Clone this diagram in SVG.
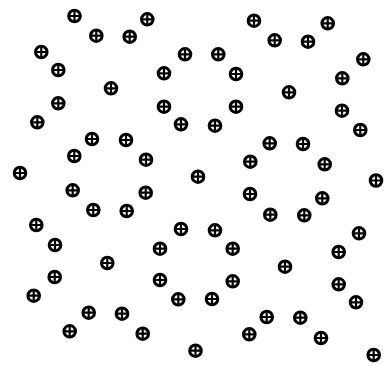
<svg xmlns="http://www.w3.org/2000/svg" xmlns:xlink="http://www.w3.org/1999/xlink" width="385" height="366" viewBox="0 0 385 366">
<defs>
<style>
.ring{fill:none;stroke:#000;stroke-width:3}
.cr{stroke:#000;stroke-width:2.2}
</style>
<g id="sym">
<circle class="ring" cx="0" cy="0" r="5.8"/>
<path class="cr" d="M-4.8,0H4.8M0,-4.8V4.8"/>
</g>
</defs>
<rect width="385" height="366" fill="#fff"/>
<g id="symbols">
<use href="#sym" x="74.5" y="16"/>
<use href="#sym" x="147.3" y="19.3"/>
<use href="#sym" x="96.3" y="35.7"/>
<use href="#sym" x="129.7" y="36.7"/>
<use href="#sym" x="41.3" y="52"/>
<use href="#sym" x="185" y="54.3"/>
<use href="#sym" x="58.3" y="70"/>
<use href="#sym" x="164" y="73.3"/>
<use href="#sym" x="111" y="88.3"/>
<use href="#sym" x="58.3" y="103.3"/>
<use href="#sym" x="164" y="106.7"/>
<use href="#sym" x="37.3" y="122.3"/>
<use href="#sym" x="181" y="124.3"/>
<use href="#sym" x="92" y="139"/>
<use href="#sym" x="126" y="140"/>
<use href="#sym" x="74.3" y="156"/>
<use href="#sym" x="146" y="159.7"/>
<use href="#sym" x="20" y="173"/>
<use href="#sym" x="254" y="20.7"/>
<use href="#sym" x="327.7" y="23.3"/>
<use href="#sym" x="274.7" y="40.3"/>
<use href="#sym" x="308" y="41.7"/>
<use href="#sym" x="218.3" y="54.3"/>
<use href="#sym" x="363.3" y="59.3"/>
<use href="#sym" x="236" y="74"/>
<use href="#sym" x="342.3" y="78.3"/>
<use href="#sym" x="289" y="92.3"/>
<use href="#sym" x="236" y="106.7"/>
<use href="#sym" x="342" y="110.7"/>
<use href="#sym" x="215" y="125.7"/>
<use href="#sym" x="360.3" y="130"/>
<use href="#sym" x="269.7" y="143.3"/>
<use href="#sym" x="303" y="144"/>
<use href="#sym" x="250.3" y="161.7"/>
<use href="#sym" x="324.7" y="164.3"/>
<use href="#sym" x="198" y="176.7"/>
<use href="#sym" x="376" y="180.5"/>
<use href="#sym" x="72.7" y="190.3"/>
<use href="#sym" x="145.7" y="192.7"/>
<use href="#sym" x="93.3" y="210"/>
<use href="#sym" x="126.7" y="211"/>
<use href="#sym" x="36.3" y="225"/>
<use href="#sym" x="181" y="229"/>
<use href="#sym" x="55" y="245"/>
<use href="#sym" x="160" y="248.7"/>
<use href="#sym" x="107.3" y="263"/>
<use href="#sym" x="54.7" y="277"/>
<use href="#sym" x="160" y="280"/>
<use href="#sym" x="33.7" y="295.7"/>
<use href="#sym" x="178.3" y="299.3"/>
<use href="#sym" x="88.7" y="312.7"/>
<use href="#sym" x="122" y="313.7"/>
<use href="#sym" x="69.7" y="331.3"/>
<use href="#sym" x="142.7" y="333.7"/>
<use href="#sym" x="195.5" y="350.7"/>
<use href="#sym" x="250" y="194"/>
<use href="#sym" x="322.3" y="198.3"/>
<use href="#sym" x="270.3" y="214.7"/>
<use href="#sym" x="304.3" y="215.3"/>
<use href="#sym" x="215" y="230.3"/>
<use href="#sym" x="359" y="233.3"/>
<use href="#sym" x="232.7" y="248.7"/>
<use href="#sym" x="338.7" y="252"/>
<use href="#sym" x="285" y="266.7"/>
<use href="#sym" x="232.7" y="281.3"/>
<use href="#sym" x="338.7" y="284.3"/>
<use href="#sym" x="212" y="299"/>
<use href="#sym" x="356" y="302.3"/>
<use href="#sym" x="266.7" y="317"/>
<use href="#sym" x="300.3" y="317.7"/>
<use href="#sym" x="249.3" y="334.3"/>
<use href="#sym" x="321" y="338"/>
<use href="#sym" x="373.7" y="355"/>
</g>
</svg>
